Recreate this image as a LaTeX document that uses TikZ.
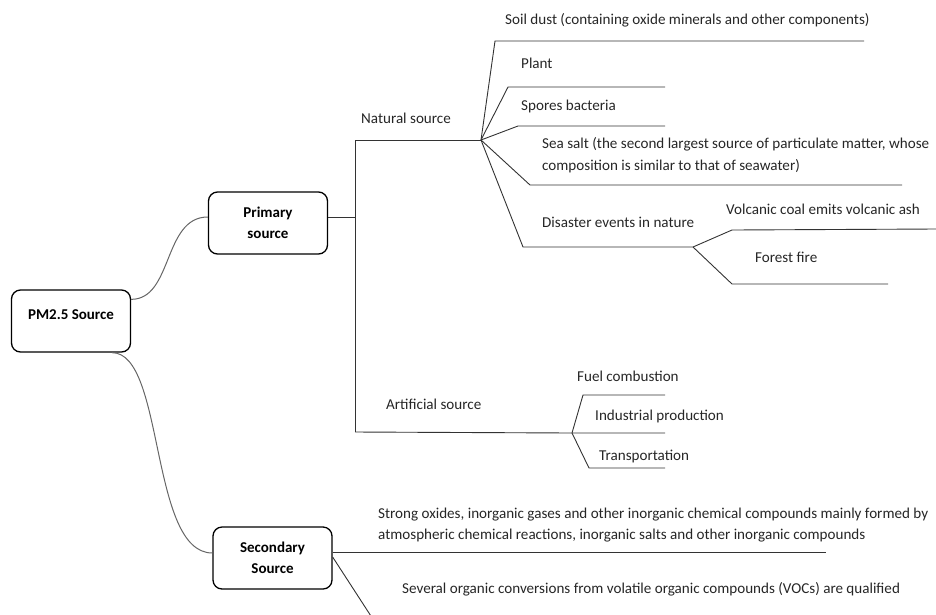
\documentclass[tikz,border=0pt]{standalone}
\usepackage{fontspec}
\setmainfont{Carlito}
\usetikzlibrary{positioning}

\begin{document}
\begin{tikzpicture}[x=1pt, y=-1pt,
    sourcebox/.style={rectangle, draw, rounded corners=9pt, line width=1.3pt, minimum width=119pt, minimum height=62pt, align=center, font=\fontsize{15}{21}\selectfont\bfseries},
    leaftext/.style={anchor=west, inner sep=0pt, align=left, font=\fontsize{15.1}{21.5}\selectfont, text=black!85},
    branch/.style={draw, line width=0.9pt, black!80},
    link/.style={draw, line width=1pt, black!60}]

    \useasboundingbox (0,0) rectangle (936,614);

        % Nodes
    \node (pm) [sourcebox, text depth=12pt] at (71,321) {PM2.5 Source};
    \node (primary) [sourcebox] at (268,223) {Primary\\source};
    \node (secondary) [sourcebox] at (272.5,558) {Secondary\\Source};

    \node (naturaltext) [leaftext] at (361,118) {Natural source};
    \node (artificialtext) [leaftext] at (386,404) {Artificial source};
    \node (soiltext) [leaftext] at (505,20) {Soil dust (containing oxide minerals and other components)};
    \node (planttext) [leaftext] at (521,63) {Plant};
    \node (sporestext) [leaftext] at (521,106) {Spores bacteria};
    \node (salttext) [leaftext] at (542,155) {Sea salt (the second largest source of particulate matter, whose\\composition is similar to that of seawater)};
    \node (disastertext) [leaftext] at (542,222) {Disaster events in nature};
    \node (volcanotext) [leaftext] at (726,209) {Volcanic coal emits volcanic ash};
    \node (foresttext) [leaftext] at (755,257) {Forest fire};
    \node (fueltext) [leaftext] at (577,376) {Fuel combustion};
    \node (industrytext) [leaftext] at (595,416) {Industrial production};
    \node (transporttext) [leaftext] at (599,456) {Transportation};
    \node (oxidestext) [leaftext] at (378,525) {Strong oxides, inorganic gases and other inorganic chemical compounds mainly formed by\\atmospheric chemical reactions, inorganic salts and other inorganic compounds};
    \node (organictext) [leaftext] at (402,589) {Several organic conversions from volatile organic compounds (VOCs) are qualified};

        % Joints and line ends
    \coordinate (trunk) at (355,217);
    \coordinate (trunktop) at (355,140);
    \coordinate (trunkbot) at (355,432);
    \coordinate (natural) at (481,140);
    \coordinate (artificial) at (572,433);
    \coordinate (disaster) at (693,247);

    \coordinate (soil-a) at (495,41);
    \coordinate (soil-b) at (864,41);
    \coordinate (plant-a) at (508,87);
    \coordinate (plant-b) at (665,87);
    \coordinate (spores-a) at (518,126);
    \coordinate (spores-b) at (665,126);
    \coordinate (salt-a) at (530,185);
    \coordinate (salt-b) at (902,185);
    \coordinate (disaster-a) at (523,247);
    \coordinate (volcano-a) at (732,230);
    \coordinate (volcano-b) at (936,229);
    \coordinate (forest-a) at (732,284);
    \coordinate (forest-b) at (888,284);
    \coordinate (fuel-a) at (583,395);
    \coordinate (fuel-b) at (665,395);
    \coordinate (industry-b) at (665,433);
    \coordinate (transport-a) at (589,468);
    \coordinate (transport-b) at (665,468);
    \coordinate (oxides-b) at (826,552);
    \coordinate (organic-a) at (380,630);

        % Curves
    \draw [link] ([yshift=-10pt]pm.north east) .. controls +(42,0) and +(-45,0) .. ([yshift=6pt]primary.west);
    \draw [link] ([xshift=41pt]pm.south) .. controls +(53,0) and +(-63,0) .. ([yshift=5pt]secondary.west);

        % Lines
    \draw [branch] ([yshift=6pt]primary.east) -- (trunk);
    \draw [branch] (trunktop) -- (trunkbot);
    \draw [branch] (trunktop) -- (natural);
    \draw [branch] (trunkbot) -- (artificial) -- (industry-b);

    \draw [branch] (natural) -- (soil-a) -- (soil-b);
    \draw [branch] (natural) -- (plant-a) -- (plant-b);
    \draw [branch] (natural) -- (spores-a) -- (spores-b);
    \draw [branch] (natural) -- (salt-a) -- (salt-b);
    \draw [branch] (natural) -- (disaster-a) -- (disaster);

    \draw [branch] (disaster) -- (volcano-a) -- (volcano-b);
    \draw [branch] (disaster) -- (forest-a) -- (forest-b);

    \draw [branch] (artificial) -- (fuel-a) -- (fuel-b);
    \draw [branch] (artificial) -- (transport-a) -- (transport-b);

    \draw [branch] ([yshift=6pt]secondary.east) -- (oxides-b);
    \draw [branch] ([yshift=1pt]secondary.east) -- (organic-a);

\end{tikzpicture}
\end{document}
